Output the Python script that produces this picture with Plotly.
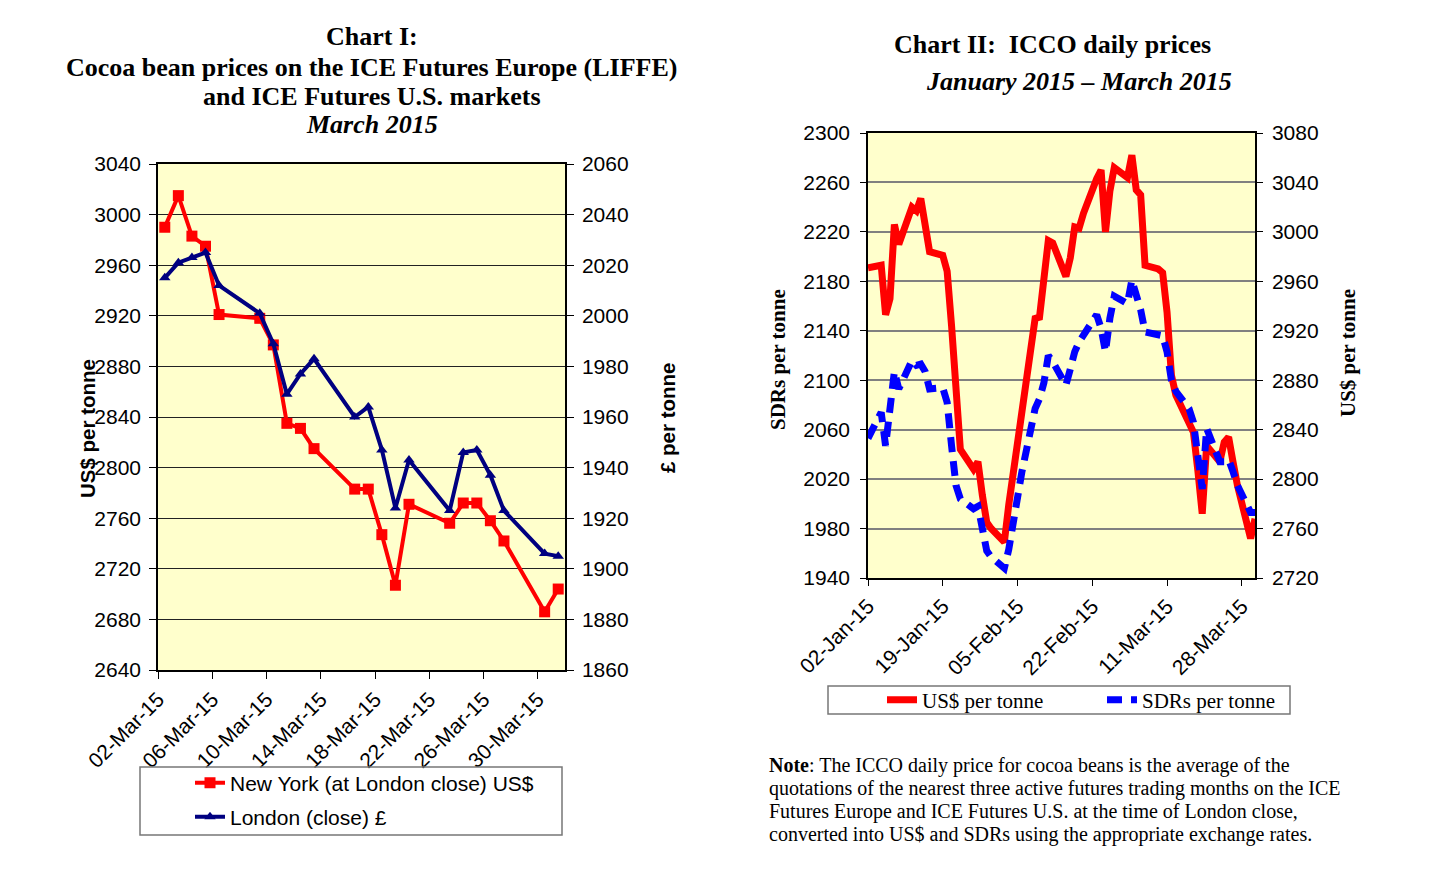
import plotly.graph_objects as go
import pandas as pd

W, H = 1433, 869


def px(x):
    return x / W


def py(y):
    return 1 - y / H


# ---------------- Chart I data (March 2015) ----------------
march_dates = ["2015-03-02", "2015-03-03", "2015-03-04", "2015-03-05", "2015-03-06",
               "2015-03-09", "2015-03-10", "2015-03-11", "2015-03-12", "2015-03-13",
               "2015-03-16", "2015-03-17", "2015-03-18", "2015-03-19", "2015-03-20",
               "2015-03-23", "2015-03-24", "2015-03-25", "2015-03-26", "2015-03-27",
               "2015-03-30", "2015-03-31"]
ny_usd = [2990, 3015, 2983, 2975, 2921, 2918, 2897, 2835, 2831, 2815, 2783,
          2783, 2747, 2707, 2771, 2756, 2772, 2772, 2758, 2742, 2686, 2704]
london_gbp = [2015, 2021, 2023, 2025, 2012, 2001, 1989, 1969, 1977, 1983, 1960,
              1964, 1947, 1924, 1943, 1923, 1946, 1947, 1937, 1923, 1906, 1905]
chart1_ticks = ["2015-03-02", "2015-03-06", "2015-03-10", "2015-03-14",
                "2015-03-18", "2015-03-22", "2015-03-26", "2015-03-30"]

# ---------------- Chart II data (ICCO daily prices) ----------------
icco_dates = ["2015-01-02", "2015-01-05", "2015-01-06", "2015-01-07", "2015-01-08", "2015-01-09",
              "2015-01-12", "2015-01-13", "2015-01-14", "2015-01-15", "2015-01-16",
              "2015-01-19", "2015-01-20", "2015-01-21", "2015-01-22", "2015-01-23",
              "2015-01-26", "2015-01-27", "2015-01-28", "2015-01-29", "2015-01-30",
              "2015-02-02", "2015-02-03", "2015-02-04", "2015-02-05", "2015-02-06",
              "2015-02-09", "2015-02-10", "2015-02-11", "2015-02-12", "2015-02-13",
              "2015-02-16", "2015-02-17", "2015-02-18", "2015-02-19", "2015-02-20",
              "2015-02-23", "2015-02-24", "2015-02-25", "2015-02-26", "2015-02-27",
              "2015-03-02", "2015-03-03", "2015-03-04", "2015-03-05", "2015-03-06",
              "2015-03-09", "2015-03-10", "2015-03-11", "2015-03-12", "2015-03-13",
              "2015-03-16", "2015-03-17", "2015-03-18", "2015-03-19", "2015-03-20",
              "2015-03-23", "2015-03-24", "2015-03-25", "2015-03-26", "2015-03-27",
              "2015-03-30", "2015-03-31"]
icco_usd = [2971, 2973, 2933, 2946, 3006, 2990,
            3020, 3017, 3027, 3003, 2984,
            2981, 2968, 2924, 2877, 2824,
            2808, 2814, 2787, 2765, 2760,
            2749, 2779, 2805, 2831, 2860,
            2930, 2931, 2965, 2993, 2991,
            2964, 2979, 3004, 3003, 3015,
            3043, 3050, 3000, 3033, 3052,
            3044, 3062, 3034, 3030, 2973,
            2970, 2967, 2935, 2884, 2868,
            2846, 2838, 2807, 2772, 2827,
            2814, 2830, 2834, 2814, 2795,
            2752, 2768]
icco_sdr = [2053, 2074, 2047, 2072, 2107, 2093,
            2116, 2112, 2113, 2107, 2093,
            2094, 2082, 2047, 2015, 2004,
            1996, 1998, 1977, 1962, 1957,
            1948, 1963, 1984, 2004, 2026,
            2077, 2085, 2098, 2120, 2115,
            2096, 2109, 2123, 2131, 2136,
            2153, 2142, 2123, 2150, 2168,
            2162, 2181, 2169, 2157, 2139,
            2136, 2136, 2123, 2100, 2091,
            2077, 2066, 2036, 2012, 2061,
            2034, 2034, 2036, 2026, 2015,
            1993, 1993]
chart2_ticks = ["2015-01-02", "2015-01-19", "2015-02-05", "2015-02-22",
                "2015-03-11", "2015-03-28"]

SANS = "Liberation Sans, Arial, sans-serif"
SERIF = "Liberation Serif, Times New Roman, serif"

fig = go.Figure()

x1 = pd.to_datetime(march_dates) + pd.Timedelta(hours=12)
fig.add_trace(go.Scatter(
    x=x1, y=ny_usd, mode="lines+markers", name="New York (at London close) US$",
    line=dict(color="#FF0000", width=4),
    marker=dict(symbol="square", size=11, color="#FF0000"),
    xaxis="x", yaxis="y", legend="legend"))
fig.add_trace(go.Scatter(
    x=x1, y=london_gbp, mode="lines+markers", name="London (close) £",
    line=dict(color="#000080", width=4),
    marker=dict(symbol="triangle-up", size=10, color="#000080"),
    xaxis="x", yaxis="y2", legend="legend2"))

x2 = pd.to_datetime(icco_dates)
fig.add_trace(go.Scatter(
    x=x2, y=icco_usd, mode="lines", name="US$ per tonne",
    line=dict(color="#FF0000", width=7),
    xaxis="x2", yaxis="y3", legend="legend3"))
fig.add_trace(go.Scatter(
    x=x2, y=icco_sdr, mode="lines", name="SDRs per tonne",
    line=dict(color="#0000FF", width=7, dash="15px,9px"),
    xaxis="x2", yaxis="y4", legend="legend4"))

tick_font = dict(family=SANS, size=21, color="black")

fig.update_layout(
    width=W, height=H, margin=dict(l=0, r=0, t=0, b=0, autoexpand=False),
    paper_bgcolor="white", plot_bgcolor="#FFFFCC",
    showlegend=True,
    xaxis=dict(domain=[px(158), px(565)], anchor="y", type="date", automargin=False,
               range=["2015-03-02", "2015-04-01"],
               tickvals=chart1_ticks, tickformat="%d-%b-%y", tickangle=-45,
               ticks="outside", ticklen=7, tickcolor="black",
               showline=True, linecolor="black", linewidth=1.5, mirror=True,
               showgrid=False, tickfont=tick_font),
    yaxis=dict(domain=[py(670), py(164)], anchor="x", range=[2640, 3040], automargin=False,
               tick0=2640, dtick=40, ticks="outside", ticklen=7, tickcolor="black",
               ticklabelstandoff=4,
               showline=True, linecolor="black", linewidth=1.5,
               showgrid=True, gridcolor="#222222", gridwidth=1,
               zeroline=False, tickfont=tick_font),
    yaxis2=dict(overlaying="y", side="right", anchor="x", range=[1860, 2060], automargin=False,
                tick0=1860, dtick=20, ticks="outside", ticklen=7, tickcolor="black",
                ticklabelstandoff=4,
                showline=True, linecolor="black", linewidth=1.5,
                showgrid=False, zeroline=False, tickfont=tick_font),
    xaxis2=dict(domain=[px(868), px(1255)], anchor="y3", type="date", automargin=False,
                range=["2015-01-02", "2015-03-31"],
                tickvals=chart2_ticks, tickformat="%d-%b-%y", tickangle=-45,
                ticks="outside", ticklen=6, tickcolor="black",
                showline=True, linecolor="black", linewidth=1.5, mirror=True,
                showgrid=False, tickfont=tick_font),
    yaxis3=dict(domain=[py(578), py(133)], anchor="x2", side="right", automargin=False,
                range=[2720, 3080], tick0=2720, dtick=40,
                ticks="outside", ticklen=6, tickcolor="black", ticklabelstandoff=5,
                showline=True, linecolor="black", linewidth=1.5,
                showgrid=True, gridcolor="#808080", gridwidth=2,
                zeroline=False, tickfont=tick_font),
    yaxis4=dict(overlaying="y3", side="left", anchor="x2", automargin=False,
                range=[1940, 2300], tick0=1940, dtick=40,
                ticks="outside", ticklen=6, tickcolor="black", ticklabelstandoff=6,
                showline=True, linecolor="black", linewidth=1.5,
                showgrid=False, zeroline=False, tickfont=tick_font),
    legend=dict(x=px(190), y=py(783), xanchor="left", yanchor="middle",
                bgcolor="rgba(0,0,0,0)", borderwidth=0,
                font=dict(family=SANS, size=21, color="black")),
    legend2=dict(x=px(190), y=py(817), xanchor="left", yanchor="middle",
                 bgcolor="rgba(0,0,0,0)", borderwidth=0,
                 font=dict(family=SANS, size=21, color="black")),
    legend3=dict(x=px(882), y=py(700), xanchor="left", yanchor="middle",
                 bgcolor="rgba(0,0,0,0)", borderwidth=0,
                 font=dict(family=SERIF, size=21, color="black")),
    legend4=dict(x=px(1102), y=py(700), xanchor="left", yanchor="middle",
                 bgcolor="rgba(0,0,0,0)", borderwidth=0,
                 font=dict(family=SERIF, size=21, color="black")),
)

shapes = [
    dict(type="rect", xref="paper", yref="paper", x0=px(140), x1=px(562),
         y0=py(835), y1=py(767), line=dict(color="#777777", width=1.5)),
    dict(type="rect", xref="paper", yref="paper", x0=px(828), x1=px(1290),
         y0=py(714), y1=py(686), line=dict(color="#777777", width=1.5)),
]
fig.update_layout(shapes=shapes)


def ann(text, x, y, font, xanchor="center", yanchor="middle", angle=0):
    return dict(text=text, x=px(x), y=py(y), xref="paper", yref="paper",
                xanchor=xanchor, yanchor=yanchor, showarrow=False,
                textangle=angle, font=font)


title_font = dict(family=SERIF, size=26, color="black")
annotations = [
    ann("<b>Chart I:</b>", 372, 37, title_font),
    ann("<b>Cocoa bean prices on the ICE Futures Europe (LIFFE)</b>", 372, 67, title_font),
    ann("<b>and ICE Futures U.S. markets</b>", 372, 96, title_font),
    ann("<b><i>March 2015</i></b>", 372, 125, title_font),
    ann("<b>Chart II:  ICCO daily prices</b>", 1052, 45, title_font),
    ann("<b><i>January 2015 – March 2015</i></b>", 1079, 81, title_font),
    ann("<b>US$ per tonne</b>", 88, 429, dict(family=SANS, size=20.5, color="black"), angle=-90),
    ann("<b>£ per tonne</b>", 667, 418, dict(family=SANS, size=20.5, color="black"), angle=-90),
    ann("<b>SDRs per tonne</b>", 778, 360, dict(family=SERIF, size=21, color="black"), angle=-90),
    ann("<b>US$ per tonne</b>", 1348, 353, dict(family=SERIF, size=21, color="black"), angle=-90),
]
note_font = dict(family=SERIF, size=20, color="black")
note_lines = [
    "<b>Note</b>: The ICCO daily price for cocoa beans is the average of the",
    "quotations of the nearest three active futures trading months on the ICE",
    "Futures Europe and ICE Futures U.S. at the time of London close,",
    "converted into US$ and SDRs using the appropriate exchange rates.",
]
for i, line in enumerate(note_lines):
    annotations.append(ann(line, 767, 765 + 23 * i, note_font, xanchor="left"))
fig.update_layout(annotations=annotations)

fig.write_html("out.html", post_script="document.body.style.margin='0';",
               config={"displayModeBar": False})
